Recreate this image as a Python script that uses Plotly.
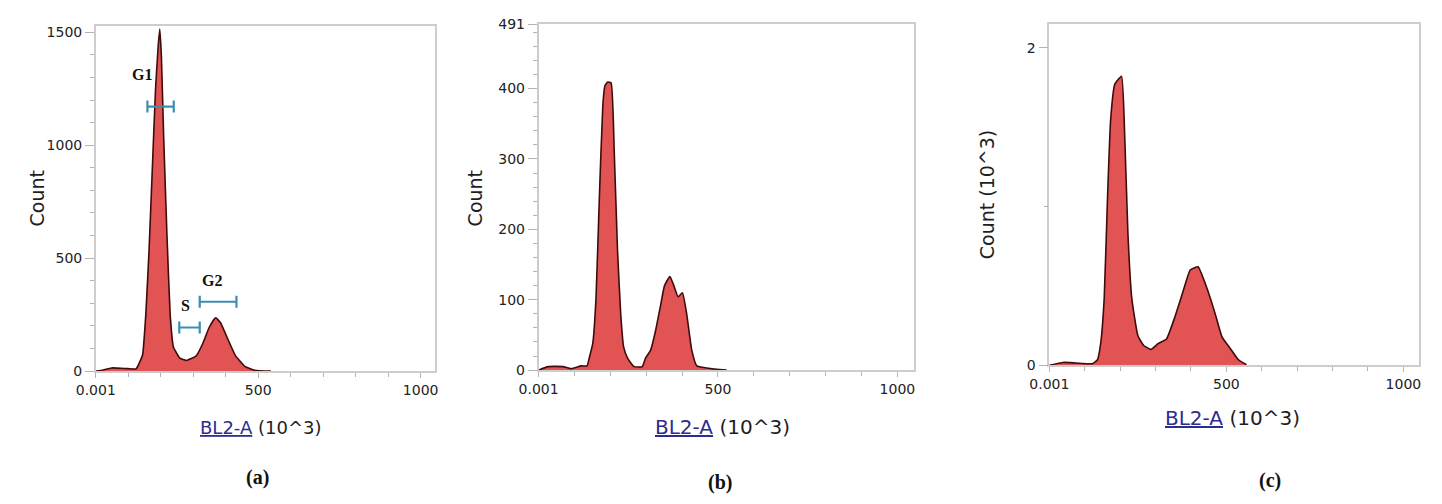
import plotly.graph_objects as go

W, H = 1442, 504

# ---- histogram outlines (BL2-A in units of 10^3, counts) ----
a_x = [0, 14, 49, 99, 124, 134, 144, 154, 164, 174, 184, 192, 197, 202, 209, 219, 229,
       239, 259, 279, 309, 329, 349, 369, 384, 404, 429, 459, 489, 539]
a_y = [0, 2, 14, 11, 10, 36, 71, 250, 536, 893, 1250, 1436, 1514, 1393, 1036, 607, 250,
       107, 57, 47, 67, 121, 193, 236, 214, 150, 71, 21, 4, 0]

b_x = [0, 27, 68, 91, 119, 135, 142, 151, 160, 169, 179, 185, 192, 202, 211, 220, 229,
       237, 248, 266, 289, 298, 312, 326, 340, 351, 366, 377, 389, 401, 413, 427, 441,
       469, 496, 524]
b_y = [0, 5, 5, 2, 6, 6, 19, 38, 102, 239, 376, 404, 409, 408, 308, 170, 79,
       33, 17, 5, 5, 17, 28, 56, 92, 120, 133, 120, 104, 110, 79, 28, 6,
       3, 1, 0]

c_x = [0, 39, 76, 122, 136, 145, 155, 164, 173, 185, 204, 213, 222, 233, 250, 266, 287,
       307, 331, 354, 377, 398, 420, 446, 469, 488, 511, 534, 557]
c_y = [0, 0.018, 0.014, 0.010, 0.035, 0.136, 0.42, 1.03, 1.54, 1.77, 1.82, 1.44, 0.83,
       0.42, 0.187, 0.126, 0.10, 0.136, 0.166, 0.30, 0.46, 0.60, 0.62, 0.48, 0.32, 0.177,
       0.106, 0.035, 0.004]

# ---- cell-cycle gates drawn on panel (a) ----
gate_names = ["G1", "S", "G2"]
gate_lo = [159, 257, 320]
gate_hi = [240, 320, 433]
gate_level = [1171, 193, 307]
gate_label_x = [142, 277, 358]
gate_label_y = [1311, 291, 403]

# ---- axis settings per panel ----
x_ticks = [0, 500, 1000]
x_tick_text = ["0.001", "500", "1000"]
x_max = 1045

a_yticks = [0, 500, 1000, 1500]
b_yticks = [0, 100, 200, 300, 400, 491]
c_yticks = [0, 2]
y_max = [1526, 491, 2.146]
y_minor = [100, 20, 1]

FILL = "#e25353"
EDGE = "#3f0b0b"
GATE = "#3b8db3"
FRAME = "#cdcdcd"
TICKC = "#b3b3b3"
TXT = "#222222"
SANS = "DejaVu Sans"
SERIF = "Liberation Serif"

fig = go.Figure()

panels = [(a_x, a_y, "x", "y"), (b_x, b_y, "x2", "y2"), (c_x, c_y, "x3", "y3")]
for xs, ys, xa, ya in panels:
    fig.add_trace(go.Scatter(
        x=xs, y=ys, xaxis=xa, yaxis=ya, mode="lines",
        line=dict(color=EDGE, width=1.6, shape="spline", smoothing=0.4),
        fill="tozeroy", fillcolor=FILL, showlegend=False, hoverinfo="skip"))

# gate brackets as horizontal error bars with end caps
for lo, hi, lvl in zip(gate_lo, gate_hi, gate_level):
    fig.add_trace(go.Scatter(
        x=[(lo + hi) / 2], y=[lvl], xaxis="x", yaxis="y", mode="markers",
        marker=dict(size=1, opacity=0),
        error_x=dict(type="data", array=[(hi - lo) / 2], symmetric=True,
                     color=GATE, thickness=2.2, width=6),
        showlegend=False, hoverinfo="skip"))

for name, gx, gy in zip(gate_names, gate_label_x, gate_label_y):
    fig.add_annotation(x=gx, y=gy, xref="x", yref="y", text=f"<b>{name}</b>",
                       xanchor="center", yanchor="middle",
                       showarrow=False, font=dict(family=SERIF, size=16, color="#111"))

# panel geometry in pixels: (left, right, top, bottom)
boxes = [(77, 422, 19, 375), (527, 908, 17, 374), (1046, 1422, 17, 369)]
tick_size = [14, 14, 14]


def xdom(l, r):
    return [l / W, r / W]


def ydom(t, b):
    return [1 - b / H, 1 - t / H]


ytick_sets = [a_yticks, b_yticks, c_yticks]
layout = {}
for i, (l, r, t, b) in enumerate(boxes):
    sx = "" if i == 0 else str(i + 1)
    layout["xaxis" + sx] = dict(
        domain=xdom(l, r), anchor="y" + sx, range=[0, x_max],
        tickmode="array", tickvals=x_ticks, ticktext=x_tick_text,
        showline=True, mirror=True, linecolor=FRAME, linewidth=1.5,
        ticks="outside", ticklen=5, tickwidth=1, tickcolor=TICKC,
        minor=dict(dtick=100, tick0=0, ticks="outside", ticklen=4, tickcolor=TICKC),
        showgrid=False, zeroline=False,
        tickfont=dict(family=SANS, size=tick_size[i], color=TXT))
    layout["yaxis" + sx] = dict(
        domain=ydom(t, b), anchor="x" + sx, range=[0, y_max[i]],
        tickmode="array", tickvals=ytick_sets[i],
        showline=True, mirror=True, linecolor=FRAME, linewidth=1.5,
        ticks="outside", ticklen=9, tickwidth=1, tickcolor=TICKC,
        minor=dict(dtick=y_minor[i], tick0=0, ticks="outside", ticklen=4, tickcolor=TICKC),
        showgrid=False, zeroline=False,
        tickfont=dict(family=SANS, size=tick_size[i], color=TXT))

fig.update_layout(
    width=W, height=H, margin=dict(l=0, r=0, t=0, b=0),
    paper_bgcolor="white", plot_bgcolor="white", showlegend=False, **layout)


def px(x, y):
    return x / W, 1 - y / H


def paper_text(x, y, text, font, angle=0):
    X, Y = px(x, y)
    fig.add_annotation(x=X, y=Y, xref="paper", yref="paper", text=text,
                       textangle=angle, xanchor="center", yanchor="middle",
                       showarrow=False, font=font)


# axis titles and panel letters
y_titles = [("Count", 17, 197), ("Count", 462, 197), ("Count (10^3)", 983, 193)]
for txt, x, y in y_titles:
    paper_text(x, y, txt, dict(family=SANS, size=19, color="#1e1e1e"), angle=-90)

x_titles = [(244, 433, 18), (714, 433, 20), (1232, 423, 20)]
for x, y, s in x_titles:
    paper_text(x, y,
               '<span style="text-decoration:underline;color:#2d2d8f">BL2-A</span> (10^3)',
               dict(family=SANS, size=s, color="#1e1e1e"))

letters = [("(a)", 241, 485), ("(b)", 711, 490), ("(c)", 1270, 488)]
for txt, x, y in letters:
    paper_text(x, y, f"<b>{txt}</b>", dict(family=SERIF, size=20, color="#111"))

fig.write_html("out.html")
